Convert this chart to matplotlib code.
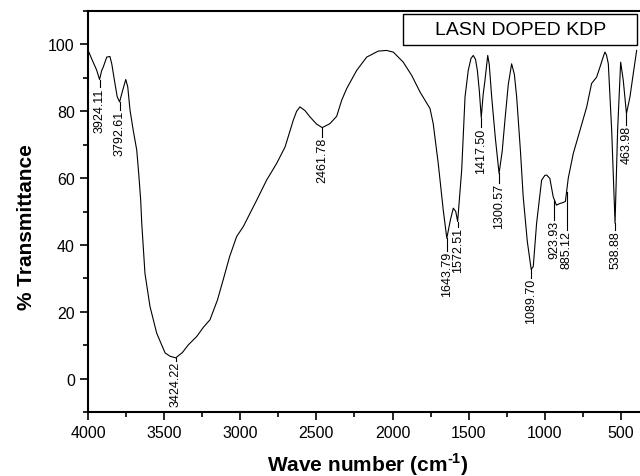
import matplotlib
matplotlib.use("Agg")
import matplotlib.pyplot as plt
from matplotlib.patches import Rectangle
from matplotlib.ticker import MultipleLocator
import numpy as np

# FTIR spectrum
wavenumber = [4000, 3976, 3943, 3924.11, 3910, 3900, 3877, 3856, 3844, 3823, 3808,
              3792.61, 3772, 3752, 3739, 3724, 3703, 3680, 3667, 3654, 3647, 3626,
              3593, 3549, 3494, 3462, 3424.22, 3380, 3341, 3286, 3243, 3199, 3150,
              3112, 3070, 3024, 2980, 2930, 2892, 2827, 2761, 2706, 2652, 2630, 2608,
              2575, 2542, 2500, 2461.78, 2411, 2367, 2334, 2301, 2236, 2170, 2094,
              2040, 1995, 1930, 1874, 1820, 1754, 1733, 1700, 1667, 1643.79, 1620,
              1601, 1585, 1572.51, 1546, 1524, 1503, 1485, 1470, 1455, 1443, 1430,
              1417.50, 1405, 1393, 1375, 1365, 1349, 1325, 1300.57, 1280, 1262, 1240,
              1218, 1200, 1185, 1160, 1142, 1115, 1089.70, 1076, 1054, 1021, 1000,
              988, 967, 945, 923.93, 901, 885.12, 865, 846, 813, 769, 725, 693, 660,
              638, 615, 605, 595, 583, 561, 538.88, 522, 502, 485, 463.98, 441, 420,
              397]
transmittance = [98.3, 95.7, 92.3, 89.5, 92.2, 93.2, 96.2, 96.4, 94.2, 88.3, 84.3,
                 82.8, 86.3, 89.5, 87.3, 80.3, 74.3, 68.4, 61.4, 53.4, 46.5, 31.5,
                 21.6, 13.6, 7.7, 6.7, 6.2, 7.8, 10.1, 12.6, 15.3, 17.6, 23.5,
                 29.6, 36.5, 42.5, 45.5, 50.0, 53.4, 59.4, 64.4, 69.3, 77.3, 80.0, 81.3,
                 80.2, 78.3, 76.2, 75.1, 76.3, 78.5, 83.3, 86.8, 92.2, 96.2, 98.0,
                 98.2, 97.7, 94.7, 90.7, 85.8, 80.8, 76.3, 64.4, 50.4, 42.0, 47.5,
                 51.0, 50.0, 47.0, 62.4, 84.3, 92.2, 95.8, 96.7, 95.5, 92.2, 86.0,
                 78.1, 85.0, 89.3, 96.7, 94.0, 84.3, 72.0, 61.4, 68.0, 77.3, 88.0,
                 94.2, 91.0, 84.3, 68.0, 54.4, 41.0, 32.7, 33.5, 46.5, 59.4, 60.8,
                 60.9, 59.9, 54.4, 51.9, 52.4, 52.6, 53.0, 60.0, 67.4, 74.3, 81.3, 88.3, 90.2,
                 93.2, 96.5, 97.7, 96.8, 94.2, 74.3, 46.5, 74.3, 94.7, 89.3, 79.3, 84.3, 91.0,
                 98.2]

peak_labels = ["3924.11", "3792.61", "3424.22", "2461.78", "1643.79", "1572.51",
               "1417.50", "1300.57", "1089.70", "923.93", "885.12", "538.88", "463.98"]
# where each marker line and label stand on the wavenumber axis
label_x = [3924.11, 3792.61, 3424.22, 2461.78, 1643.79, 1572.51,
           1417.50, 1300.57, 1089.70, 938.0, 857.0, 538.88, 463.98]
# where the top of each rotated label sits (data units)
label_top = [87.2, 80.3, 5.4, 72.3, 38.2, 45.4, 75.2, 58.5, 30.1, 47.5, 44.5, 44.5, 75.8]

title_text = "LASN DOPED KDP"

plt.rcParams['font.family'] = ['Liberation Sans', 'DejaVu Sans']
plt.rcParams['axes.unicode_minus'] = False

fig = plt.figure(figsize=(6.4, 4.77), dpi=100)
ax = fig.add_axes([88 / 640, 64 / 477, 552 / 640, 401 / 477])

wn = np.array(wavenumber)
tr = np.array(transmittance)
ax.plot(wn, tr, color='black', linewidth=0.8)

for lab, x, top in zip(peak_labels, label_x, label_top):
    y = np.interp(x, wn[::-1], tr[::-1])
    ax.plot([x, x], [y, top], color='black', linewidth=0.8)
    ax.text(x, top, lab, rotation=90, ha='center', va='top', fontsize=9)

ax.set_xlim(4000, 375)
ax.set_ylim(-10, 110)
ax.xaxis.set_major_locator(MultipleLocator(500))
ax.xaxis.set_minor_locator(MultipleLocator(250))
ax.yaxis.set_major_locator(MultipleLocator(20))
ax.yaxis.set_minor_locator(MultipleLocator(10))
ax.set_yticks([0, 20, 40, 60, 80, 100])

ax.tick_params(which='major', direction='out', length=5.5, width=1.2,
               labelsize=11.5, pad=4)
ax.tick_params(which='minor', direction='out', length=3.5, width=1.2)
ax.tick_params(top=False, right=False)

for side in ['left', 'bottom', 'top']:
    ax.spines[side].set_linewidth(1.5)
ax.spines['right'].set_visible(False)

label_font = dict(fontweight='bold', fontsize=15)
ax.set_xlabel("Wave number (cm$^{\\mathregular{\u20101}}$)", va='center', **label_font)
ax.set_ylabel("% Transmittance", va='center', **label_font)
ax.xaxis.set_label_coords(0.507, -0.128)
ax.yaxis.set_label_coords(-0.112, 0.464)

ax.add_patch(Rectangle((0.571, 0.915), 0.4236, 0.0775, transform=ax.transAxes,
                       fill=False, edgecolor='black', linewidth=1.0))
ax.text(0.783, 0.954, title_text, transform=ax.transAxes,
        ha='center', va='center', fontsize=14)

fig.savefig("out.png", dpi=100)
